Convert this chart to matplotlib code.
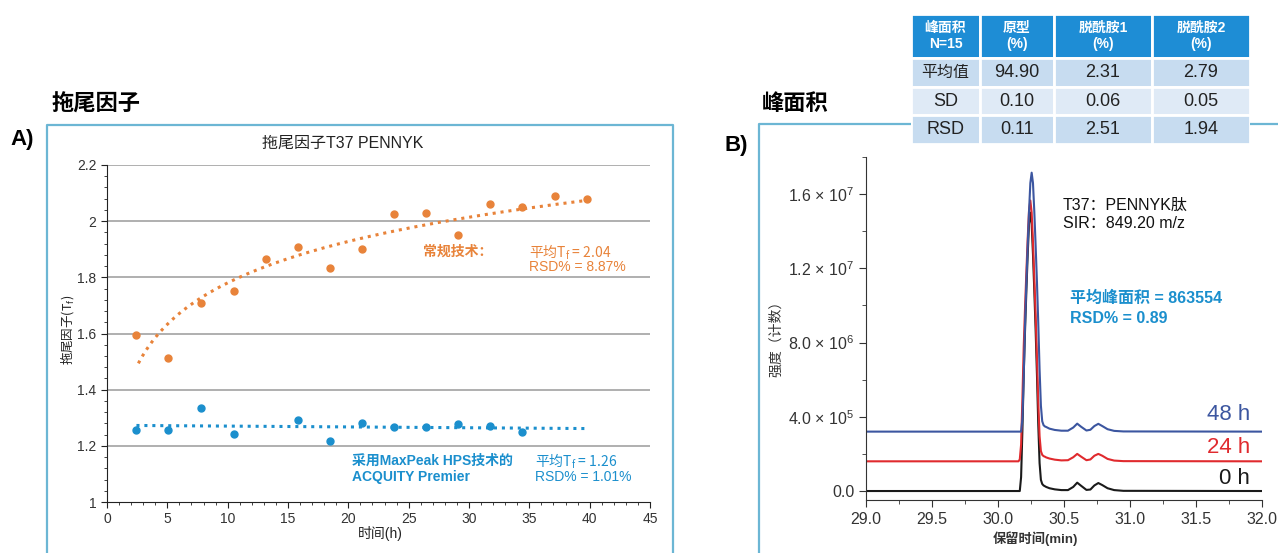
import numpy as np
import matplotlib.pyplot as plt
from matplotlib.patches import Rectangle
from matplotlib.lines import Line2D
from matplotlib.ticker import MultipleLocator, FixedLocator, FixedFormatter

plt.rcParams['font.family'] = ['Liberation Sans', 'Noto Sans CJK SC', 'DejaVu Sans']
CJK = 'Noto Sans CJK SC'  # for strings that mix CJK with mathtext

# ---- A) tailing factor vs time ----
conv_time = [2.44, 5.09, 7.78, 10.53, 13.18, 15.84, 18.52, 21.17, 23.82, 26.47, 29.12, 31.78, 34.43, 37.11, 39.76]
conv_tf = [1.594, 1.514, 1.709, 1.753, 1.867, 1.907, 1.832, 1.902, 2.026, 2.030, 1.951, 2.060, 2.052, 2.090, 2.080]
hps_time = [2.44, 5.09, 7.78, 10.53, 15.84, 18.52, 21.17, 23.82, 26.47, 29.12, 31.78, 34.43]
hps_tf = [1.257, 1.257, 1.335, 1.242, 1.291, 1.217, 1.282, 1.266, 1.266, 1.277, 1.271, 1.251]

# ---- B) chromatograms, x10^6 counts above each trace's baseline ----
rt = [29.0, 30.10, 30.145,
      30.155, 30.165, 30.175, 30.185, 30.195, 30.205, 30.215, 30.225, 30.235, 30.245, 30.255,
      30.265, 30.275, 30.285, 30.295, 30.305, 30.315, 30.325, 30.335, 30.345, 30.355, 30.365,
      30.39, 30.43, 30.48, 30.53, 30.57, 30.60, 30.63, 30.67, 30.70, 30.73, 30.76, 30.79,
      30.83, 30.88, 30.95, 32.0]
sig_0h = [0, 0, 0,
          0, 0, 0.75, 3.3, 6.3, 8.7, 10.8, 12.75, 14.4, 15.0, 14.4,
          12.75, 10.8, 8.7, 6.3, 3.6, 1.5, 0.6, 0.38, 0.3, 0.26, 0.22,
          0.15, 0.09, 0.05, 0.05, 0.22, 0.45, 0.28, 0.06, 0.08, 0.3, 0.43, 0.32,
          0.15, 0.05, 0.01, 0]
sig_24h = [0, 0, 0,
           0, 0.1, 0.9, 3.4, 6.2, 8.3, 10.2, 12.0, 13.5, 14.05, 13.4,
           11.8, 9.9, 7.9, 5.6, 3.2, 1.35, 0.55, 0.35, 0.28, 0.25, 0.21,
           0.15, 0.09, 0.05, 0.06, 0.22, 0.4, 0.25, 0.06, 0.1, 0.3, 0.4, 0.3,
           0.13, 0.04, 0.01, 0]
sig_48h = [0, 0, 0,
           0, 0, 0, 0.7, 3.07, 5.86, 8.09, 10.04, 11.86, 13.39, 13.95,
           13.39, 11.86, 10.04, 8.09, 5.86, 3.35, 1.4, 0.56, 0.35, 0.28, 0.25,
           0.16, 0.09, 0.05, 0.05, 0.22, 0.43, 0.26, 0.06, 0.1, 0.3, 0.42, 0.3,
           0.13, 0.04, 0.01, 0]
trace_labels = ['0 h', '24 h', '48 h']
trace_offsets = [0, 1.6, 3.2]  # stacking offset, x10^6 counts
trace_colors = ['#1a1a1a', '#e02a2e', '#3c56a0']

y_ticks = [0, 4e6, 8e6, 1.2e7, 1.6e7]
y_ticklabels = ['0.0', r'4.0 × 10$^{\mathregular{5}}$', r'8.0 × 10$^{\mathregular{6}}$',
                r'1.2 × 10$^{\mathregular{7}}$', r'1.6 × 10$^{\mathregular{7}}$']

# ---- table ----
tbl_header = ['峰面积\nN=15', '原型\n(%)', '脱酰胺1\n(%)', '脱酰胺2\n(%)']
tbl_rows = [['平均值', '94.90', '2.31', '2.79'],
            ['SD', '0.10', '0.06', '0.05'],
            ['RSD', '0.11', '2.51', '1.94']]

W, H = 1278, 553
fig = plt.figure(figsize=(W / 100, H / 100), dpi=100)
frame = '#6cb6d4'
orange = '#e8833a'
blue = '#1b8fcd'

# panel frames
fig.add_artist(Line2D([47 / W, 47 / W, 673 / W, 673 / W], [0, 1 - 125 / H, 1 - 125 / H, 0],
                      color=frame, lw=1.6))
fig.add_artist(Line2D([759 / W, 759 / W, 1.0], [0, 1 - 124 / H, 1 - 124 / H], color=frame, lw=1.6))

fig.text(10 / W, 1 - 140 / H, 'A)', fontsize=16, fontweight='bold', va='center')
fig.text(52 / W, 1 - 105 / H, '拖尾因子', fontsize=16, fontweight='bold', va='center')
fig.text(724 / W, 1 - 146 / H, 'B)', fontsize=16, fontweight='bold', va='center')
fig.text(762 / W, 1 - 105 / H, '峰面积', fontsize=16, fontweight='bold', va='center')

# ---------------- A ----------------
ax = fig.add_axes([107 / W, 51 / H, 543 / W, 337 / H])
ax.set_xlim(0, 45)
ax.set_ylim(1, 2.2)
ax.yaxis.set_major_locator(FixedLocator([1, 1.2, 1.4, 1.6, 1.8, 2.0, 2.2]))
ax.yaxis.set_major_formatter(FixedFormatter(['1', '1.2', '1.4', '1.6', '1.8', '2', '2.2']))
ax.yaxis.set_minor_locator(MultipleLocator(0.04))
ax.xaxis.set_major_locator(MultipleLocator(5))
ax.xaxis.set_minor_locator(MultipleLocator(1))
for y in [1.2, 1.4, 1.6, 1.8, 2.0, 2.2]:
    ax.axhline(y, color='#a9a9a9', lw=1.3, zorder=0)
for s in ['top', 'right']:
    ax.spines[s].set_visible(False)
for s in ['left', 'bottom']:
    ax.spines[s].set_color('#222222')
ax.tick_params(which='major', direction='out', length=4, labelsize=10, colors='#222222', labelcolor='#333333')
ax.tick_params(which='minor', direction='out', length=2.5, colors='#222222')

ax.plot(conv_time, conv_tf, 'o', color=orange, ms=5, zorder=3)
ax.plot(hps_time, hps_tf, 'o', color=blue, ms=5, zorder=3)

# trend lines fitted from the data
tt = np.linspace(2.6, max(conv_time), 200)
a, b = np.polyfit(np.log(conv_time), conv_tf, 1)
ax.plot(tt, a * np.log(tt) + b, color=orange, lw=2.2, ls=(0, (1, 1.6)), zorder=2)
tb = np.linspace(min(hps_time), max(conv_time), 200)
m, c = np.polyfit(hps_time, hps_tf, 1)
ax.plot(tb, m * tb + c, color=blue, lw=2.2, ls=(0, (1, 1.6)), zorder=2)

ax.text(19.5, 2.278, '拖尾因子T37 PENNYK', fontsize=11.5, ha='center', va='center', color='#222222')
ax.text(-0.072, 0.51, '拖尾因子(T$_\\mathregular{f}$)', transform=ax.transAxes, rotation=90,
        fontsize=9, ha='center', va='center', color='#222222', family=CJK)
ax.text(0.503, -0.092, '时间(h)', transform=ax.transAxes, fontsize=10, ha='center', va='center',
        color='#222222')

ax.text(26.2, 1.89, '常规技术：', color=orange, fontsize=10, fontweight='bold', va='center')
ax.text(35.0, 1.89, '平均T$_\\mathregular{f}$ = 2.04', color=orange, fontsize=10, va='center', family=CJK)
ax.text(35.0, 1.837, 'RSD% = 8.87%', color=orange, fontsize=10, va='center')
ax.text(20.3, 1.146, '采用MaxPeak HPS技术的', color=blue, fontsize=10, fontweight='bold', va='center')
ax.text(20.3, 1.089, 'ACQUITY Premier', color=blue, fontsize=10, fontweight='bold', va='center')
ax.text(35.5, 1.146, '平均T$_\\mathregular{f}$ = 1.26', color=blue, fontsize=10, va='center', family=CJK)
ax.text(35.5, 1.089, 'RSD% = 1.01%', color=blue, fontsize=10, va='center')

# ---------------- B ----------------
bx = fig.add_axes([866 / W, (H - 500.3) / H, 396 / W, 343.4 / H])
bx.set_xlim(29.0, 32.0)
bx.set_ylim(-0.5e6, 18e6)
for sig, off, col in zip([sig_0h, sig_24h, sig_48h], trace_offsets, trace_colors):
    bx.plot(rt, (np.array(sig) + off) * 1e6, color=col, lw=1.5)
for s in ['top', 'right']:
    bx.spines[s].set_visible(False)
for s in ['left', 'bottom']:
    bx.spines[s].set_color('#333333')
bx.xaxis.set_major_locator(MultipleLocator(0.5))
bx.xaxis.set_minor_locator(MultipleLocator(0.25))
bx.xaxis.set_major_formatter(plt.FormatStrFormatter('%.1f'))
bx.yaxis.set_major_locator(FixedLocator(y_ticks))
bx.yaxis.set_major_formatter(FixedFormatter(y_ticklabels))
bx.yaxis.set_minor_locator(MultipleLocator(2e6))
bx.tick_params(which='major', direction='out', length=5, labelsize=11.5, colors='#333333', labelcolor='#333333')
bx.tick_params(which='minor', direction='out', length=3, colors='#333333')

bx.text(-0.228, 0.48, '强度（计数）', transform=bx.transAxes, rotation=90, fontsize=10,
        ha='center', va='center', color='#333333')
bx.text(0.427, -0.113, '保留时间(min)', transform=bx.transAxes, fontsize=9.5, fontweight='bold',
        ha='center', va='center', color='#333333')

bx.text(30.49, 15.4e6, 'T37：PENNYK肽', fontsize=11.5, va='center', color='#111111')
bx.text(30.49, 14.44e6, 'SIR：849.20 m/z', fontsize=11.5, va='center', color='#111111')
bx.text(30.545, 10.4e6, '平均峰面积 = 863554', fontsize=11.5, fontweight='bold', va='center', color=blue)
bx.text(30.545, 9.32e6, 'RSD% = 0.89', fontsize=11.5, fontweight='bold', va='center', color=blue)
for lab, ypos, col in zip(trace_labels, [0.7e6, 2.37e6, 4.1e6], trace_colors):
    bx.text(31.91, ypos, lab, fontsize=16, ha='right', va='center', color=col)

# ---------------- table ----------------
tx = fig.add_axes([911 / W, (H - 144) / H, 339 / W, 130 / H], zorder=5)
tx.set_facecolor('white')
col_w = [69, 74, 98, 98]
row_h = [43, 28, 28, 28]
tx.set_xlim(0, sum(col_w))
tx.set_ylim(sum(row_h), 0)
tx.set_xticks([])
tx.set_yticks([])
for s in tx.spines.values():
    s.set_visible(False)
row_fill = ['#1e8dd5', '#c7dcf0', '#dfeaf6', '#c7dcf0']
cells = [tbl_header] + tbl_rows
y0 = 0
for r, cells_row in enumerate(cells):
    x0 = 0
    for ci, txt in enumerate(cells_row):
        tx.add_patch(Rectangle((x0, y0), col_w[ci], row_h[r], facecolor=row_fill[r],
                               edgecolor='white', lw=2))
        if r == 0:
            tx.text(x0 + col_w[ci] / 2, y0 + row_h[r] / 2, txt, ha='center', va='center',
                    color='white', fontsize=10, fontweight='bold', linespacing=1.15)
        else:
            fs = 11.5 if ci == 0 and r == 1 else 13
            tx.text(x0 + col_w[ci] / 2, y0 + row_h[r] / 2, txt, ha='center', va='center',
                    color='#222222', fontsize=fs)
        x0 += col_w[ci]
    y0 += row_h[r]

fig.savefig('out.png', dpi=100)
